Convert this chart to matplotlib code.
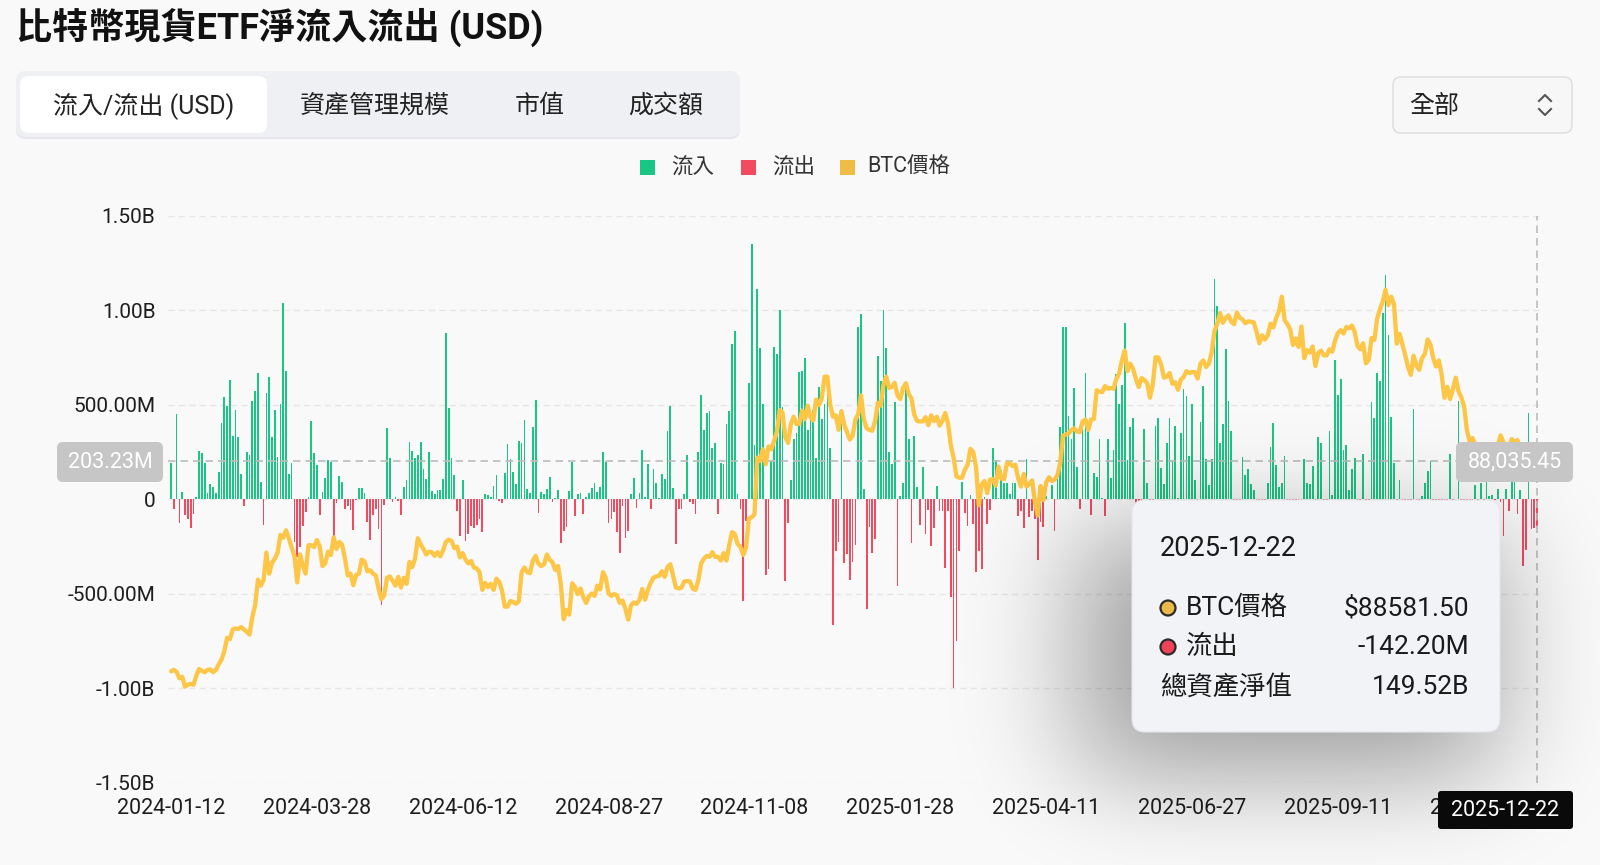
import math
import numpy as np
import pandas as pd
import matplotlib
matplotlib.use('Agg')
import matplotlib.pyplot as plt
import matplotlib.transforms as mtransforms
from matplotlib.patches import FancyBboxPatch, Rectangle, Circle
from matplotlib.lines import Line2D

plt.rcParams['font.family'] = ['Roboto', 'Noto Sans CJK TC', 'DejaVu Sans']

W, H = 1600, 865
BG = '#f9f9f9'
GREEN = '#19c683'
RED = '#f24b60'
GOLD = '#fdc647'

title = '比特幣現貨ETF淨流入流出 (USD)'
tabs = ['流入/流出 (USD)', '資產管理規模', '市值', '成交額']
legend_labels = ['流入', '流出', 'BTC價格']

# NYSE closed days inside the range
holidays = ['2024-01-15', '2024-02-19', '2024-03-29', '2024-05-27', '2024-06-19',
            '2024-07-04', '2024-09-02', '2024-11-28', '2024-12-25',
            '2025-01-01', '2025-01-09', '2025-01-20', '2025-02-17', '2025-04-18',
            '2025-05-26', '2025-06-19', '2025-07-04', '2025-09-01', '2025-11-27']
dates = pd.bdate_range('2024-01-12', '2025-12-22', freq='C', holidays=holidays)

# daily net flow, millions USD (one list per month)
flow_2024_01 = [193, -49, 451, -123, 40, -84, -102, -154, -79, 12, 254, 244, 193]
flow_2024_02 = [35, 79, 65, 32, 146, 403, 538, 491, 631, 337, 474, 328, 135, -35, 249, 232, 517, 574, 670, 91]
flow_2024_03 = [-137, 560, 644, 330, 470, 223, 503, 1038, 679, 132, 193, -228, -307, -254, -140, -70, 12, 416, 242, 182]
flow_2024_04 = [-84, 39, 114, 210, 198, -193, -18, 123, 91, -53, -35, -56, -161, -4, 61, 61, 32, -118, -214, -81, -53, -158]
flow_2024_05 = [-558, -32, 375, 216, -14, 12, -9, -84, 65, 100, 303, 254, 219, 233, 305, 158, 109, 249, 44, 26, 47, 47]
flow_2024_06 = [105, 880, 482, 216, 128, -61, -196, 100, -223, -186, -140, -151, -137, -102, -172, 30, 21, 12, 70]
flow_2024_07 = [128, -9, -18, 140, 293, 214, 146, 79, 307, 298, 419, 53, 35, 381, 526, -75, 40, 30, 53, 119, -14, 8]
flow_2024_08 = [49, -232, -167, -146, 44, 198, -88, 26, 35, -79, 12, 35, 61, 84, 39, 65, 249, 198, -126, -102, -70, -172]
flow_2024_09 = [-284, -35, -207, -167, 26, 114, -44, 35, 261, 12, 184, -49, 158, 88, 7, 135, 105, 363, 491, 61]
flow_2024_10 = [-237, -49, -49, 26, 232, -14, -26, -79, 251, 553, 368, 456, 468, 272, 295, -79, 193, 184, 398, 468, 821, 891, 30]
flow_2024_11 = [-53, -536, -114, 617, 1351, 289, 1114, 798, 505, -398, -368, 202, 807, 768, 998, 490, -431, -123, 102, 316]
flow_2024_12 = [351, 672, 679, 746, 368, 421, 474, 219, 593, 426, 503, 565, 270, -667, -275, -225, 475, -338, -288, -426, -333]
flow_2025_01 = [-242, 908, 978, 52, -582, -149, -284, -209, 755, 626, 1000, 802, 248, 188, 514, -458, 18, 88, 582, 316]
flow_2025_02 = [-232, 337, 67, -137, 170, -184, -56, -246, -154, 70, -61, -61, -363, -61, -516, -996, -749, -272, 93]
flow_2025_03 = [-74, -140, 21, -130, -386, -275, -368, 14, -130, -56, 272, 210, 9, 154, 84, 84, 26, 88, 88, -91, -61]
flow_2025_04 = [-154, 214, -96, -61, -102, -321, -119, -146, 15, 1, 74, -167, 107, 381, 912, 912, 439, 316, 588, 172, -53]
flow_2025_05 = [424, 670, 360, -84, 140, 118, 319, 7, -88, 316, 114, 258, 661, 503, 605, 930, 210, 382, 430, -150, -616]
flow_2025_06 = [-267, 374, 84, -278, -47, 386, 430, 163, 79, 298, 430, 210, 386, 6, 351, 584, 544, 228, 503, 102]
flow_2025_07 = [-342, 407, 600, 214, 74, 214, 1166, 1021, 295, 400, 795, 517, 361, -131, -68, -86, 225, 128, 158, 79, 49, -114]
flow_2025_08 = [-812, -323, -196, 88, 275, 403, 179, 65, 84, 228, -14, -122, -523, -311, -194, -23, 214, 84, 79, 175, -127]
flow_2025_09 = [330, 298, -100, -160, 360, 21, 737, 549, 637, 260, 289, 50, 161, 219, -363, -104, 237, -258, -418, 515, 428]
flow_2025_10 = [670, 623, 985, 1184, 868, 435, 193, -5, 102, -326, -94, -531, -367, 477, -41, -101, 18, 88, 149, 202, -471, -488, -191]
flow_2025_11 = [-187, -566, -137, 237, -558, 1, 518, -278, -866, -492, -255, -373, 74, -903, 88, -151, 93, 18, 21]
flow_2025_12 = [-4, 56, -14, -193, 53, -61, 120, 223, -78, 49, -354, -267, 457, -158, -154, -142.2]

# BTC close, thousands USD
btc_2024_01 = [42.8, 43.1, 42.7, 41.3, 41.6, 39.5, 39.9, 40.1, 39.9, 41.8, 43.3, 42.9, 42.6]
btc_2024_02 = [43.1, 43.2, 42.6, 43.1, 44.3, 45.3, 47.1, 50.0, 49.7, 51.8, 52.0, 51.9, 52.3, 51.8, 51.3, 50.7, 54.5, 57.0, 62.5, 61.2]
btc_2024_03 = [62.4, 68.3, 63.8, 66.1, 67.0, 68.3, 72.1, 71.5, 73.1, 71.4, 69.4, 67.6, 61.9, 67.9, 65.5, 63.8, 69.9, 69.9, 69.5, 71.0]
btc_2024_04 = [69.7, 65.4, 66.0, 68.5, 67.8, 71.6, 69.1, 70.6, 70.0, 67.1, 63.4, 63.8, 61.3, 63.5, 63.8, 66.8, 66.4, 64.3, 64.5, 63.8, 63.4, 60.6]
btc_2024_05 = [58.3, 59.1, 62.9, 63.2, 62.3, 61.2, 63.1, 60.8, 62.9, 61.6, 66.3, 65.2, 67.0, 71.4, 70.1, 69.1, 67.9, 68.5, 68.4, 67.6, 68.4, 67.5]
btc_2024_06 = [68.8, 70.6, 71.1, 70.8, 69.3, 69.6, 67.3, 68.2, 66.8, 66.0, 66.5, 65.1, 64.9, 64.1, 60.3, 61.8, 60.9, 61.6, 60.3]
btc_2024_07 = [62.7, 62.0, 60.2, 56.7, 56.7, 57.9, 57.7, 57.3, 57.9, 64.1, 65.1, 64.1, 63.9, 66.6, 67.6, 65.9, 65.4, 65.8, 67.9, 66.8, 66.2, 64.6]
btc_2024_08 = [65.4, 61.4, 54.0, 56.0, 55.0, 61.7, 60.9, 59.4, 60.6, 58.7, 57.5, 58.9, 59.5, 59.0, 61.2, 60.4, 64.1, 62.9, 59.5, 59.0, 59.4, 59.1]
btc_2024_09 = [57.5, 58.0, 56.2, 53.9, 57.0, 57.6, 57.3, 58.1, 60.5, 58.2, 60.3, 61.8, 62.9, 63.2, 63.3, 64.3, 63.1, 65.2, 65.8, 63.3]
btc_2024_10 = [60.8, 60.6, 60.8, 62.1, 62.2, 62.1, 60.6, 60.3, 62.4, 66.0, 67.0, 67.6, 67.4, 68.4, 67.4, 67.4, 66.6, 68.2, 66.6, 69.9, 72.7, 72.3, 70.2]
btc_2024_11 = [69.5, 67.8, 69.4, 75.6, 75.9, 76.5, 88.7, 88.0, 90.5, 87.3, 91.1, 90.5, 92.3, 94.3, 98.9, 98.4, 93.1, 91.9, 95.9, 97.5]
btc_2024_12 = [95.9, 96.0, 98.8, 97.0, 99.9, 97.4, 96.7, 101.2, 100.0, 101.5, 106.1, 106.1, 100.2, 97.5, 97.8, 94.7, 98.7, 95.8, 94.2, 92.6, 93.4]
btc_2025_01 = [96.9, 98.1, 102.1, 96.9, 95.0, 94.7, 94.5, 96.5, 100.5, 99.9, 104.4, 106.1, 103.7, 103.9, 104.8, 102.1, 101.3, 103.7, 104.7, 102.4]
btc_2025_02 = [101.4, 97.9, 96.6, 96.5, 96.5, 97.4, 95.7, 97.8, 96.6, 97.5, 95.6, 96.6, 98.3, 96.1, 91.4, 88.7, 84.7, 84.4, 84.4]
btc_2025_03 = [86.1, 87.2, 90.6, 89.9, 86.7, 78.5, 82.9, 83.7, 81.1, 84.0, 84.1, 82.7, 86.8, 84.2, 84.1, 87.5, 87.5, 86.9, 87.2, 84.3, 82.5]
btc_2025_04 = [85.2, 82.5, 83.1, 83.8, 79.2, 76.3, 82.6, 79.6, 83.4, 84.5, 83.7, 84.0, 84.9, 87.5, 93.4, 93.7, 93.9, 94.7, 95.0, 94.3, 94.2]
btc_2025_05 = [96.5, 96.9, 94.7, 96.9, 97.0, 103.2, 102.9, 102.8, 104.1, 103.5, 103.7, 103.5, 105.6, 106.8, 109.6, 111.7, 107.3, 108.9, 107.8, 105.6, 103.9]
btc_2025_06 = [105.8, 105.4, 104.7, 101.6, 104.4, 110.3, 110.2, 108.7, 105.9, 106.1, 106.9, 104.6, 104.9, 103.3, 105.5, 106.0, 107.3, 106.9, 107.1, 107.1]
btc_2025_07 = [105.7, 108.9, 109.6, 108.2, 108.9, 111.3, 115.9, 117.5, 119.8, 117.7, 118.7, 119.3, 117.9, 117.4, 119.9, 118.8, 118.4, 117.6, 118.0, 117.9, 117.8, 115.8]
btc_2025_08 = [113.3, 115.0, 114.1, 115.0, 117.5, 116.7, 118.7, 120.2, 123.3, 118.3, 117.4, 116.3, 112.9, 114.3, 112.5, 116.9, 110.1, 111.8, 111.3, 112.6, 108.4]
btc_2025_09 = [111.2, 111.7, 110.7, 110.7, 112.0, 111.5, 113.9, 115.5, 116.1, 115.4, 116.8, 116.5, 117.1, 115.7, 112.7, 112.0, 113.3, 109.0, 109.7, 114.4, 114.0]
btc_2025_10 = [118.6, 120.6, 122.3, 124.8, 121.5, 123.3, 121.7, 113.2, 115.3, 113.1, 110.8, 108.2, 106.5, 110.6, 108.5, 107.6, 110.1, 111.0, 114.1, 113.0, 110.1, 108.3, 109.6]
btc_2025_11 = [106.5, 101.6, 103.9, 101.3, 103.4, 105.9, 103.0, 101.7, 99.7, 94.6, 92.2, 92.9, 91.5, 86.6, 85.1, 88.3, 87.3, 90.5, 90.9]
btc_2025_12 = [86.3, 91.3, 93.5, 92.1, 89.4, 90.6, 92.7, 92.0, 92.5, 90.3, 86.4, 87.8, 86.1, 85.5, 88.1, 88.5815]

flows = np.array(flow_2024_01 + flow_2024_02 + flow_2024_03 + flow_2024_04 + flow_2024_05 + flow_2024_06
                 + flow_2024_07 + flow_2024_08 + flow_2024_09 + flow_2024_10 + flow_2024_11 + flow_2024_12
                 + flow_2025_01 + flow_2025_02 + flow_2025_03 + flow_2025_04 + flow_2025_05 + flow_2025_06
                 + flow_2025_07 + flow_2025_08 + flow_2025_09 + flow_2025_10 + flow_2025_11 + flow_2025_12)
btc = np.array(btc_2024_01 + btc_2024_02 + btc_2024_03 + btc_2024_04 + btc_2024_05 + btc_2024_06
               + btc_2024_07 + btc_2024_08 + btc_2024_09 + btc_2024_10 + btc_2024_11 + btc_2024_12
               + btc_2025_01 + btc_2025_02 + btc_2025_03 + btc_2025_04 + btc_2025_05 + btc_2025_06
               + btc_2025_07 + btc_2025_08 + btc_2025_09 + btc_2025_10 + btc_2025_11 + btc_2025_12)

n = min(len(dates), len(flows), len(btc))
dates, flows, btc = dates[:n], flows[:n], btc[:n]
x = np.arange(n)

ytick_vals = [1500, 1000, 500, 0, -500, -1000, -1500]
ytick_labels = ['1.50B', '1.00B', '500.00M', '0', '-500.00M', '-1.00B', '-1.50B']
xtick_idx = list(range(0, n, 52))

# hover state shown in the screenshot
cross_flow = 203.23
cross_price = 88035.45
tip_date = dates[-1].strftime('%Y-%m-%d')
tip_price = btc[-1] * 1000
tip_flow = flows[-1]
tip_total = 149.52

fig = plt.figure(figsize=(W / 100, H / 100), dpi=100, facecolor=BG)
tpx = mtransforms.Affine2D().scale(1 / W, -1 / H).translate(0, 1) + fig.transFigure

top_px, bot_px = 215.5, 783
ax = fig.add_axes([168 / W, 1 - bot_px / H, (1540 - 168) / W, (bot_px - top_px) / H])
ax.set_facecolor(BG)
ax.set_xlim((168 - 171) / 2.805, (1540 - 171) / 2.805)
ax.set_ylim(-1500, 1500)
for s in ax.spines.values():
    s.set_visible(False)
for v in ytick_vals:
    ax.axhline(v, color='#e6e6e6', lw=1, ls=(0, (4.5, 3)), zorder=0)

colors = [GREEN if v >= 0 else RED for v in flows]
ax.bar(x, flows, width=0.62, color=colors, linewidth=0, zorder=2)

ax.set_yticks(ytick_vals)
ax.set_yticklabels(ytick_labels)
ax.set_xticks(xtick_idx)
ax.set_xticklabels([dates[i].strftime('%Y-%m-%d') for i in xtick_idx])
ax.tick_params(axis='y', length=0, pad=9, labelsize=15, labelcolor='#1e1e1e')
ax.tick_params(axis='x', length=0, pad=11, labelsize=15.5, labelcolor='#1e1e1e')

ax.axhline(cross_flow, color='#bcbcbc', lw=1.2, ls=(0, (4.5, 3)), zorder=4)
ax.axvline(x[-1], color='#bcbcbc', lw=1.2, ls=(0, (4.5, 3)), zorder=4)

# price axis aligned so the crosshair reads the same level on both sides
span = (bot_px - top_px) * 0.2149
frac = (cross_flow + 1500) / 3000
ax2 = ax.twinx()
lo = cross_price / 1000 - frac * span
ax2.set_ylim(lo, lo + span)
ax2.plot(x, btc, color=GOLD, lw=3.1, solid_joinstyle='round', solid_capstyle='round', zorder=3)
ax2.axis('off')

# title and tab bar
fig.text(16, 27, title, transform=tpx, fontsize=26, fontweight='bold', color='#111111',
         ha='left', va='center')
fig.add_artist(FancyBboxPatch((16, 73), 724, 66, boxstyle='round,pad=0,rounding_size=10',
                              transform=tpx, fc='#e4e6ea', ec='none', zorder=1))
fig.add_artist(FancyBboxPatch((16, 71), 724, 66, boxstyle='round,pad=0,rounding_size=10',
                              transform=tpx, fc='#eff0f3', ec='none', zorder=1))
fig.add_artist(FancyBboxPatch((20, 76), 247, 57, boxstyle='round,pad=0,rounding_size=9',
                              transform=tpx, fc='white', ec='none', zorder=1))
for label, cx in zip(tabs, [144, 375, 540, 666]):
    fig.text(cx, 106, label, transform=tpx, fontsize=18, color='#222222', ha='center', va='center')

fig.add_artist(FancyBboxPatch((1393, 77), 179, 56, boxstyle='round,pad=0,rounding_size=8',
                              transform=tpx, fc='#f7f7f8', ec='#dcdcdc', lw=1, zorder=1))
fig.text(1409, 106, '全部', transform=tpx, fontsize=18, color='#222222', ha='left', va='center')
fig.add_artist(Line2D([1539, 1545, 1551], [101, 95, 101], transform=tpx, color='#555555', lw=1.5))
fig.add_artist(Line2D([1539, 1545, 1551], [109, 115, 109], transform=tpx, color='#555555', lw=1.5))

# legend
for (sx, tx), label, c in zip([(640, 671), (741, 772), (840, 867)], legend_labels, [GREEN, RED, '#efbd45']):
    fig.add_artist(Rectangle((sx, 160), 15, 15, transform=tpx, fc=c, ec='none'))
    fig.text(tx, 167, label, transform=tpx, fontsize=15.5, color='#333333', ha='left', va='center')

# crosshair labels
fig.add_artist(FancyBboxPatch((57, 442), 106, 40, boxstyle='round,pad=0,rounding_size=6',
                              transform=tpx, fc='#c6c6c6', ec='none', zorder=5))
fig.text(110, 462, f'{cross_flow:.2f}M', transform=tpx, fontsize=15.5, color='white',
         ha='center', va='center', zorder=6)
fig.add_artist(FancyBboxPatch((1456, 442), 117, 40, boxstyle='round,pad=0,rounding_size=6',
                              transform=tpx, fc='#c6c6c6', ec='none', zorder=5))
fig.text(1514.5, 462, f'{cross_price:,.2f}', transform=tpx, fontsize=15.5, color='white',
         ha='center', va='center', zorder=6)
fig.add_artist(FancyBboxPatch((1438, 791), 135, 38, boxstyle='round,pad=0,rounding_size=3',
                              transform=tpx, fc='#0a0a0a', ec='none', zorder=5))
fig.text(1505.5, 810, tip_date, transform=tpx, fontsize=15.5, color='white',
         ha='center', va='center', zorder=6)

# tooltip shadow
erf = np.vectorize(math.erf)
def soft_edge(coord, a, b, s):
    return 0.5 * (erf((coord - a) / (s * math.sqrt(2))) - erf((coord - b) / (s * math.sqrt(2))))
gx = soft_edge(np.arange(W) + 0.5, 1080, 1495, 58)
gy = soft_edge(np.arange(H) + 0.5, 530, 775, 52)
alpha = 0.36 * np.outer(gy, gx)
shadow = np.zeros((H, W, 4))
shadow[..., 3] = alpha
fig.figimage(shadow, xo=0, yo=0, origin='upper', zorder=2)

# tooltip
fig.add_artist(FancyBboxPatch((1132, 500), 368, 232, boxstyle='round,pad=0,rounding_size=13',
                              transform=tpx, fc='#f2f3f6', ec='#e3e5e9', lw=0.8, zorder=3))
fig.text(1160, 549, tip_date, transform=tpx, fontsize=19.5, color='#1a1a1a',
         ha='left', va='center', zorder=4)
rows = [('BTC價格', f'${tip_price:.2f}', '#e8b84a'),
        ('流出', f'{tip_flow:.2f}M', '#f0435a'),
        ('總資產淨值', f'{tip_total:.2f}B', None)]
for (name, val, dot), yy in zip(rows, [608, 647, 687]):
    if dot:
        fig.add_artist(Circle((1168, yy), 7.5, transform=tpx, fc=dot, ec='#2a2a2a', lw=1.6, zorder=4))
        tx = 1186
    else:
        tx = 1160
    fig.text(tx, yy, name, transform=tpx, fontsize=19, color='#1a1a1a', ha='left', va='center', zorder=4)
    fig.text(1469, yy, val, transform=tpx, fontsize=19, color='#1a1a1a', ha='right', va='center', zorder=4)

fig.savefig('out.png', dpi=100, facecolor=BG)
